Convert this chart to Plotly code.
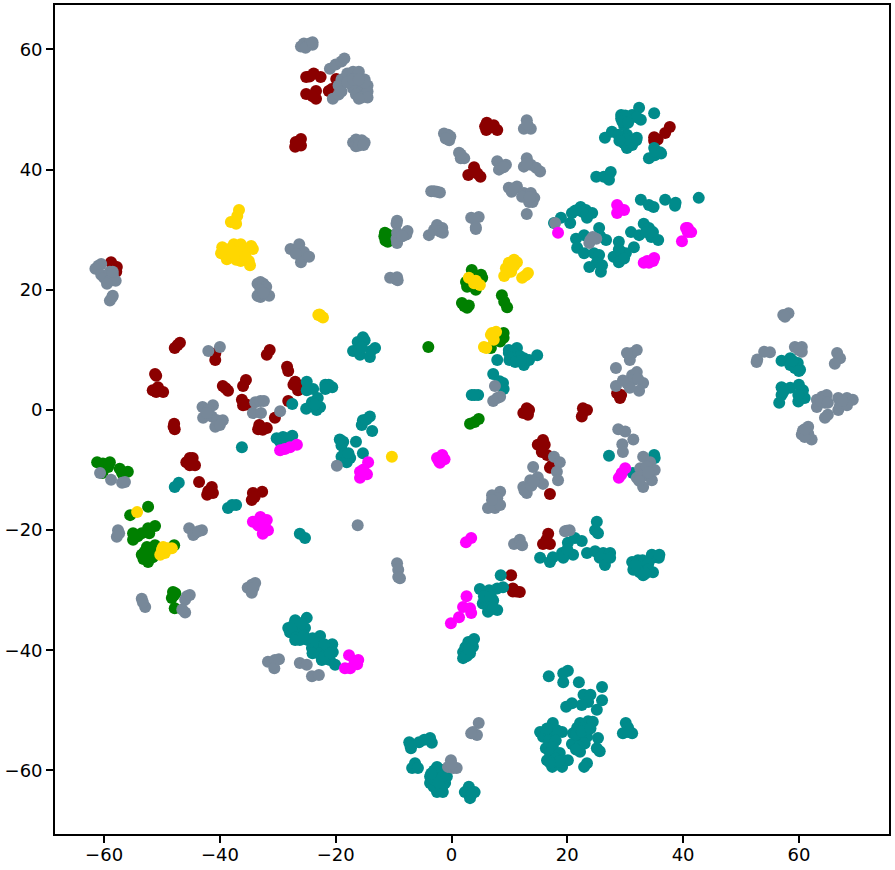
import plotly.graph_objects as go

maroon_points = [
(-25.1,55.4),(-23.8,56),(-22.6,55.4),(-24.5,55.5),(-19.9,55.1),(-25.1,52.6),(-23.4,53.1),(-23.4,51.8),(-24,52.2),(-21.2,53.1),(-20.7,53.4),
(-26,45.1),(-26.9,44.6),(-27,43.8),(-26,44),(-26.5,44.5),
(-58.8,24.6),(-57.8,23.8),(-57.9,23),(-58.4,24),
(6.1,47.8),(7.3,47.4),(6,46.6),(7.9,46.6),(6.8,47),(5.8,47.2),
(3.9,40.4),(2.9,39.1),(5,38.8),(4.2,39.6),(4.5,39.3),
(35,45.4),(35.6,45),(35,44.8),(37.7,47.1),(36.9,46.1),
(-46.9,11.2),(-47.8,10.3),(-47.3,10.8),
(-51.2,6),(-51,5.7),(-51.6,3.3),(-50.7,3.8),(-49.8,3),(-51,3),
(-40.8,8.3),(-40.8,9.4),
(-31.4,10),(-31.9,9.2),
(-28.4,7.2),(-28.2,6.5),
(-39.5,4),(-38.6,3.2),(-39,3.6),
(-35.5,5),(-36,4),
(-36.2,1.7),(-36,0.8),(-35.4,0.9),
(-26.7,4.2),(-27,4.7),(-26.5,3.3),(-27.3,4.2),
(-28.2,1.5),
(-30.5,-1.3),
(-33.2,-2.5),(-33.4,-3.2),(-31.9,-3),(-32.6,-3.3),
(-47.9,-2.3),(-47.8,-3.2),(-48,-2.8),
(-45.2,-8),(-45.8,-8.7),(-44.3,-9.2),(-45.2,-9.2),(-44.7,-8),
(-43.6,-12),
(-41.4,-12.8),(-42.2,-14.1),(-41.2,-13.8),(-42,-13.5),
(-32.7,-13.6),(-34.3,-13.8),(-34.5,-15),(-34,-14.5),
(13,0.3),(12.4,-0.5),(13.2,-0.8),(13.4,0),
(22.7,0.3),(22.5,-1.1),(23.4,0),
(28.6,2.8),(29.1,2),(29.3,2.5),
(14.9,-5.8),(16.1,-5.8),(15.6,-7),(16.5,-7.5),(17,-9.6),(17.3,-9.3),(15.8,-5),
(17,-14),
(16.7,-20.6),(15.8,-22.3),(17,-22.3),(16.4,-21.6),
(10.3,-27.5),(10.6,-29.7),(11.8,-30.3),(10.6,-30.2),(11.2,-30.2),
]

green_points = [
(-11.5,29.5),(-11,29.2),(-11.4,28.2),(-11,28),(-11.6,28.9),(-10.9,28.7),
(3.5,23.3),(5.1,22.5),(2.5,21.3),(2.7,20.5),(4.2,20),(5.3,22),(4.2,22.3),
(1.8,17.8),(2.7,17),(2.2,17.3),(3,17.4),
(8.7,19.1),(9.1,18),(9.6,17.1),
(-4,10.5),
(9,12.8),(9,12),(8.4,11.4),(6.8,10.3),
(3.2,-2.3),(4,-2),(4.7,-1.5),
(-61.2,-8.7),(-60.2,-8.9),(-59,-8.7),(-59.3,-9.5),(-60.3,-10.5),(-57.3,-9.8),(-56.9,-10.5),(-55.9,-10.3),
(-52.4,-16.1),(-55.5,-17.5),
(-51.2,-19.3),(-52.4,-19.7),(-55,-20.5),(-53.5,-20.5),(-55,-21.6),(-52.2,-20.5),(-54.2,-21),
(-51.2,-22.5),(-52.6,-22.8),(-53.5,-24.1),(-52.4,-25.3),(-51.6,-24.5),(-53,-23.6),(-52,-23.5),(-50.7,-23),(-53.2,-24.8),(-51.4,-23.7),
(-47.9,-22.5),
(-48.1,-30.3),(-47.9,-30.8),(-48.3,-31.3),(-47.7,-30.5),(-47.8,-33),
]

gray_points = [
(-26,60.5),(-25.5,61),(-25,60.6),(-24.5,61),(-24,60.8),(-25.2,60.3),(-24,61.2),
(-21,56.8),(-20,57.5),(-19,58),(-18.5,58.5),
(-19,55),(-18,56),(-17,56.3),(-16,56.3),(-19.5,54),(-15,55),(-14.5,54),(-16,54),(-17,53.5),(-15.5,53),(-14.5,53),(-16.5,52.5),(-15.5,52),(-14.5,52),(-16,51.8),(-20.5,51.8),(-19.5,52.5),(-19,53),(-15,54.5),
(-17.5,55),(-18,54.5),(-17,55),(-16,55),
(-17,44.5),(-16.5,45),(-16,44.8),(-15.5,44.9),(-15,44.5),(-16.5,43.9),(-16,44),(-15.2,44.1),
(-61,24),(-60.5,24.3),(-61.5,23.5),(-60.5,22.5),(-60,22),(-59,23),(-58.5,22.5),(-59,21.5),(-58,21.5),(-59.5,21),(-58.5,23),(-58.5,19),(-59,18.2),(-58.6,18.8),
(-27.8,26.8),(-26.3,27.6),(-25.5,26.3),(-26,24.6),(-24.6,25.5),(-26.9,26),
(-33.5,21),(-33,21.3),(-32.5,21),(-32,20.5),(-33,20),(-33.5,19),(-33,18.8),(-32.3,19.2),(-31.5,19),(-32.5,19.5),
(-9.4,31.5),(-9.5,31),(-9.4,29.5),(-9.5,28.5),(-9.4,27.8),(-8.5,29),(-7.8,29.2),(-7.6,29.8),(-8.5,28.9),
(-3.9,29.1),(-3,30),(-2.5,30.8),(-1.6,30.3),(-2,29.7),(-1.5,29.5),
(-10.6,22),(-9.4,22.1),(-9.3,21.6),(-9.6,21.8),
(-3.5,36.4),(-2.5,36.3),(-3,36.4),(-2,36.2),
(-0.6,45.8),(-1.3,46),(-0.4,44.9),(-0.2,45.5),(-1,45.2),
(1.3,42.8),(1.6,41.9),(2.2,41.9),(1.6,42.5),
(3.4,32),(4.7,32.1),(4.2,30.1),(4,31.8),(4.2,30.4),
(7.9,41.4),(8.6,40.3),(9.4,40.8),(8.2,40),(9,40.4),
(13,48.2),(12.5,46.8),(13.7,46.8),(13.1,47.5),
(13,41.9),(12.5,40.5),(13.7,40.8),(14.6,40.3),(15.3,39.7),(13,41),
(9.9,37),(11.3,37.2),(10.4,36.3),(10.8,36.8),
(12.5,36.1),(13.7,36.1),(14.3,35.3),(13.4,34.6),(14,34.6),(12.2,35.5),(13.5,35.4),
(13,32.6),(17.9,31.1),
(23.8,27.8),(24.4,28.8),(25,28.5),(24,28.3),
(-42,9.8),(-40,10.5),
(-43,0.5),(-41.2,0.8),(-42,0),(-42.9,-1.3),(-41.4,-1.1),(-40.5,-1.7),(-39.5,-1.7),(-40.8,-2.8),(-40,-2.5),(-42.3,-0.5),
(-33.9,1.3),(-33,1.5),(-32.4,1.5),(-34.3,-0.5),(-32.9,-0.5),
(-29.6,-0.2),(-19.8,-9.3),(-16.2,-19.2),
(-60.7,-10.5),(-58.8,-11.6),(-56.9,-12.1),(-56.4,-12),
(-57.6,-20),(-57.8,-21.1),(-57.4,-20.5),
(-45.3,-19.7),(-44.3,-20.5),(-43.1,-20),(-44.6,-20.8),(-43.7,-20.2),
(-34.5,-29.1),(-33.9,-28.8),(-35.2,-29.6),(-34.5,-30.4),(-34.2,-29.6),
(-53.5,-31.4),(-52.9,-32.8),(-53.3,-32),
(-45.7,-31),(-46,-31.6),(-45.2,-30.8),(-46,-33.7),(-46.5,-33.2),
(-31.7,-41.9),(-30.5,-41.6),(-30.6,-43),(-29.8,-41.5),
(-26.2,-42.1),(-25,-42.4),(-24.1,-44.3),(-22.9,-44.1),
(-9.4,-25.5),(-9.2,-26.6),(-9.2,-27.8),(-8.9,-28),
(-0.1,-58.3),(0.3,-59.6),(-0.6,-59.4),(0.9,-59.6),(0,-58.9),
(4.7,-52.1),(3.7,-53.6),(4.4,-54.1),(3.4,-53.8),
(8.4,-13.6),(7,-14.2),(7.9,-14.7),(6.3,-16.3),(7.5,-16.3),(8.4,-15.8),(7,-15),
(14.1,-9.5),
(12.4,-12.8),(13.6,-11.7),(13,-13.8),(14.9,-11.2),(15.8,-12.3),(12.6,-13.4),(13.8,-12.6),(14.2,-12),
(17.7,-7.8),(18.7,-8.7),(18.2,-10.3),(18.4,-11.7),
(10.8,-22.3),(11.8,-21.6),(12.2,-22.5),
(19.9,-20.1),(19.6,-20.2),(20.4,-20),
(28.8,-3.2),(30,-3.6),(31.4,-4.9),(29.5,-5.7),(29.6,-7),
(33.1,-7.8),(34.3,-8.7),(35.1,-10),(32.6,-9.7),(33.7,-9.4),(32,-11.3),(33.1,-11),(34.6,-11.7),(33.1,-12.8),(32.4,-11.8),(34,-10.4),
(31.2,9.5),(32,10),(30.8,8.3),(30.3,9.5),(28.4,7),(28.4,4),(30.3,4.5),(31.2,5.8),(32,6.3),(31.4,5),(33.1,4.5),(32.4,3.2),(30.8,3.7),(29.6,4.9),(32.2,5.2),
(7.9,2),(8.4,2.2),(7.2,1.5),(7.5,4),
(57.3,15.8),(58.2,16.1),(57.6,15.5),
(59.3,10.5),(60.5,10.5),(60.5,9.7),(60,10),
(54,9.7),(55,9.6),(52.7,8),(52.8,8.4),
(66.6,9.5),(67.1,8.6),(66.2,7.7),
(63.1,1.7),(64,2.2),(64.8,2.5),(63.1,0.5),(64.5,1.2),(63.8,1.5),(65,1.2),(65,-0.8),(64.5,-1.3),
(66.8,2),(68.3,2),(69.3,1.7),(67.1,0.8),(66.8,0),(68.3,0.8),(67.5,1.5),
(61.6,-2.8),(60.7,-3.4),(60.5,-4.1),(61.6,-3.9),(62.2,-4.9),(61,-4.5),(61,-3.2),
]

teal_points = [
(29.3,49.1),(30,48.5),(31.2,49.1),(32.4,50.3),(32.7,48.3),(29.8,47.4),(35,49.4),(29.3,48.5),(30.8,48.7),(32,48.7),(30,49),(29.5,48),(30.5,47.8),
(26.5,45.3),(27.7,46.3),(29.3,45.3),(30.3,45.8),(31.9,44.9),(30.3,43.6),(31.2,44.1),(29.8,44.4),(28.8,45.8),(30.8,44.6),(31,44.5),(30,45),(29,44.8),(32,45.3),
(34.1,41.9),(35,43.6),(36,42.9),(35.1,42.4),(35.2,43),(36.2,42.7),
(25,38.8),(26.3,38.8),(27.5,39.6),(27.2,38.3),
(32.7,35),(34.1,34.1),(34.9,33.8),(36.9,35),(38.6,34),(38.7,34.5),(42.7,35.3),
(17.7,31.1),(18.9,32),(20.5,31.1),(20.8,32.8),(22.3,33.8),(23.2,33.3),(24.3,32.8),(23.4,32),(22.6,33),(21.4,33.2),
(21.5,28.5),(22.9,29.1),(21.7,27),(22.9,26.1),(25.5,30.3),(26.7,28.3),(25.7,28.9),(24.6,26.1),(25.5,25.8),(25.1,24.5),(23.8,23.8),(25.8,23),(26,24.1),
(28.9,28),(31.5,27.1),(28,25.5),(28.9,24.6),(30.1,26.1),(29.2,26.4),(28.9,26.7),(29.8,25.2),
(31,29.6),(32.4,29.1),(33.2,31),(34.1,30.3),(34.5,28.8),(35.7,28.3),(33.6,29.6),(34.8,29.6),
(7.9,8.3),(9.9,9.5),(11.3,10.3),(9.9,10),(11.3,8.6),(12.5,8.6),(12.5,7.5),(13.4,8.3),(14.8,9.1),(10.7,9.5),(11.8,9),(10.3,8.7),(10,8.3),(11,8),(12,8.2),
(7.2,6),(8.9,4.5),(9,3.5),(8.3,4.8),
(3.5,2.5),(4.6,2.5),(4,2.5),
(-15.3,12.1),(-16.2,11.3),(-17,9.8),(-15.8,9.2),(-13.2,10.3),(-14.1,8.8),(-13.9,9.8),(-15,11.6),(-16,10),(-15.5,10.5),
(-25,4.7),(-25,3.3),(-23.9,3.5),(-21.8,4.2),(-20.6,3.8),(-21.2,4.2),(-21.8,3.5),
(-27.5,1),(-25.1,0.2),(-23.1,2),(-24.1,1.3),(-22.7,0.5),(-23.3,0),(-23.6,0.9),
(-30.2,-4.7),(-29.1,-4.5),(-27.5,-4.3),(-29.6,-5.3),(-28.5,-4.7),
(-36.2,-6.2),
(-18.7,-5.3),(-19,-5.9),(-19.3,-4.9),(-16.5,-5.3),(-18.4,-7.8),(-17.5,-8),(-19,-7.8),(-18.1,-8.7),(-15.3,-7.2),(-18.5,-7.2),(-18,-8),(-17.8,-7.2),
(-14.1,-1.1),(-15.3,-1.7),(-15.5,-2.5),(-13.7,-3.5),(-14.7,-1.6),
(-47.1,-12.1),(-47.8,-12.8),
(-38.6,-16.3),(-37.2,-15.8),(-37.9,-15.8),
(-26.2,-20.6),(-25.3,-21.3),
(-28.2,-36.3),(-27,-35),(-25,-34.6),(-27.9,-37),(-26.7,-37),(-25.3,-36.3),(-26.2,-38.3),(-24.8,-38.3),(-24.1,-39.6),(-22.7,-40),(-22.7,-37.6),(-21.8,-40),(-20.6,-39),(-22.4,-41.6),(-21,-41.6),(-20.5,-40.3),(-20.1,-42.4),(-21.8,-41.3),(-23.5,-39),(-27,-38.3),
(-24,-38),(-23,-38.8),(-22,-39),(-23,-40.5),(-22,-41),(-21,-40.5),(-25.5,-37.5),(-26.5,-36),(-27.5,-36),(-26,-35.5),(-24,-40.5),
(15.3,-24.6),(17,-25.3),(17.5,-24.5),(19.1,-23.8),(20.1,-22.1),(21.3,-21.3),(22.5,-21.8),(21,-24.1),(19.3,-24.6),(20,-23.2),
(24.8,-20),(25.1,-18.6),(25.3,-20.5),
(23.4,-23.8),(24.8,-23.5),(26.2,-23.8),(27.4,-23.8),(25.6,-24.6),(26.5,-25.8),(27.4,-24.6),
(31.2,-25.3),(31.4,-26.6),(33.1,-27.5),(34.8,-27),(32.6,-26),(33.6,-26),(34.6,-24.1),(35.1,-24.5),(32.2,-25),(33.1,-26.6),(35.8,-24.6),(35.9,-24.1),
(33,-25),(34,-25.5),(32.5,-27),(34,-26.5),(31.8,-25.8),(33.5,-27.2),
(8.5,-27.5),(7.9,-29.7),(8.9,-29.5),(4.9,-29.8),(6.1,-30.8),(7.2,-31.7),(5.4,-32.2),(6.3,-33.6),(7.9,-33.3),(6.4,-32.2),(6,-31.5),(7,-32.2),(6.5,-30),(5.6,-31),(6.8,-31),(7.2,-33),
(3.9,-38.1),(2.9,-38.6),(3.7,-39.4),(2.9,-39.7),(2,-40.3),(2,-41.3),(3.2,-40.5),(2.7,-40.9),(3.2,-39),(3.5,-38.7),(2.4,-39.5),(2.5,-41),(3,-39.9),
(16.8,-44.3),(20.1,-43.4),(19.3,-43.8),(19.3,-45.3),(22,-45.3),(26,-46.1),(22.8,-47.4),(24,-47.4),(26,-48.3),(23.6,-48.6),(22.5,-49.1),(20.8,-48.8),(19.8,-49.4),(25.1,-49.9),
(17.5,-52.1),(15.3,-53.6),(19.1,-53.6),(17.4,-54.4),(15.8,-54.4),(18.2,-53.3),(16.4,-53.3),(16.8,-55),(18,-55),(16.5,-53),
(22.2,-52.1),(23.6,-51.8),(24.4,-51.9),(21.7,-52.9),(22.8,-52.9),(23.6,-53.1),(21,-53.8),(22.2,-54.2),(23.4,-54.4),(21.7,-55.3),(20.8,-55.6),(22.8,-55.4),(22.2,-56.9),(25.3,-54.6),(25.1,-56.3),(25.6,-56.8),
(21.5,-54),(22.5,-53.5),(23,-55.5),(22,-56),(21.5,-56.5),(24,-53),
(16.3,-56.3),(17.5,-56.1),(17,-57.1),(18.7,-57.1),(20.1,-58.3),(16.5,-58.3),(17.4,-59.4),(19.1,-59.4),(18,-58),(23.4,-58.8),(22.9,-59.4),(17.5,-58.5),(18.5,-58.5),(17,-58.7),
(30.1,-52.1),(30.5,-52.9),(29.6,-53.8),(31.2,-53.8),(30.5,-53.6),
(-7.3,-55.3),(-5.6,-55.3),(-7,-56.3),(-3.7,-54.6),(-3.4,-55.4),(-6.3,-58.8),(-6.8,-59.6),(-5.8,-59.6),(-4.7,-54.9),(-7.1,-55.9),
(-2.5,-59.4),(-3.7,-61),(-2.8,-60.4),(-2,-61),(-1.1,-62.1),(-3.7,-62.1),(-2.5,-63.6),(-1.5,-63.6),(-2.8,-62.1),(-1.6,-59.9),(-0.8,-61),(-3.1,-62.7),
(-2,-60),(-3,-60),(-1.5,-62.5),(-2,-62.5),(-3,-61.5),(-1.5,-61),(-2.3,-62),(-3.5,-60.5),
(3,-62.7),(4,-63.6),(2.3,-63.6),(3.2,-64.6),(3.5,-63.9),
(27.2,-7.6),(31.3,-10.5),(35,-7.5),(35.1,-8),
]

teal_right_points = [
(57,8.2),(58.5,8.6),(58.5,7.5),(59.8,7.8),(60.2,6.7),(59.3,7),(58.9,8.2),(60,6.5),
(57,3.8),(58.5,3.7),(60,4.2),(60.7,3.3),(57,2.5),(56.6,1.2),(59.9,1.4),(61,2),(59.9,2.5),(57.3,3),
]

magenta_points = [
(28.6,34.1),(29.8,33.3),(28.6,32.8),(28.9,33.6),(18.4,29.5),
(33.2,24.5),(34.1,24.5),(34.8,24.8),(33.8,24.8),(35,25.3),
(39.8,28.1),(40.8,29.6),(40.8,30.3),(41.4,29.6),(40.5,30.3),
(-29.6,-6.7),(-28.8,-6.5),(-27.9,-6.2),(-26.7,-5.8),
(-14.4,-8.7),(-15.8,-10.3),(-14.6,-10.7),(-15.8,-11.3),(-15.5,-10.8),(-15.2,-9.9),
(-34.3,-18.6),(-33,-17.8),(-31.9,-18.3),(-33.4,-19.2),(-31.7,-20),(-32.6,-20.6),(-32.8,-19.4),
(-1.6,-7.5),(-2,-8.8),(-2.5,-8),(-1.2,-8.2),(-2.2,-8.5),
(3.4,-21.3),(2.5,-22),
(29.4,-10.5),(30,-9.7),(28.9,-11.3),(29.3,-10.8),
(2.6,-31),(2,-32.8),(3.2,-33),(3.4,-33.8),(1.3,-34.5),(-0.1,-35.5),
(-17.7,-40.8),(-18.4,-43),(-16.7,-41.8),(-16.3,-42.3),(-17.5,-43),(-16.1,-41.6),
]

gold_points = [
(-36.7,33.3),(-37,32.3),(-38.1,31.3),(-37.2,31),
(-39.6,27.1),(-39.8,26.1),(-38.8,25.1),(-37.6,27.6),(-36.4,27.6),(-34.6,27.3),(-34.3,26.8),(-37.6,26.3),(-36.8,26.3),(-38.4,26.8),(-35.8,26.3),(-36.4,24.8),(-35,24.8),(-34.8,24.1),(-37.2,25),(-35.6,25.6),
(-22.5,15.6),(-23,15.8),(-22.2,15.4),(-22.8,15.9),
(10.8,25),(9.9,24.5),(11.3,24.6),(9.4,23.6),(9.1,22.3),(10.3,23),(10.8,24),(12.2,22),(13.2,22.8),(12.8,22.4),
(3,22),(3.9,21.1),(4.9,20.8),(4.2,21.5),
(7,12.8),(7.3,11.7),(6.8,12.5),(7.7,13),
(5.6,10.5),(6,10.3),
(-10.3,-7.8),
(-54.3,-17),
(-49.8,-22.8),(-50.3,-24.1),(-48.3,-23),(-49.5,-23.8),(-50,-23.2),(-49,-23),
]

series = [
    (maroon_points, "#8B0000"),
    (green_points, "#008000"),
    (teal_points, "#008B8B"),
    (gray_points, "#778899"),
    (teal_right_points, "#008B8B"),
    (magenta_points, "#FF00FF"),
    (gold_points, "#FFD700"),
]

fig = go.Figure()
for pts, color in series:
    fig.add_trace(go.Scatter(
        x=[p[0] for p in pts], y=[p[1] for p in pts], mode="markers",
        marker=dict(color=color, size=12, line=dict(width=0)),
        showlegend=False, hoverinfo="skip",
    ))

axis = dict(showgrid=False, zeroline=False, showline=True, mirror=True, linecolor="black",
            linewidth=1.7, ticks="outside", ticklen=7, tickwidth=1.5, tickcolor="black",
            automargin=False,
            tickfont=dict(family="DejaVu Sans", size=18, color="black"), tickmode="array",
            tickvals=[-60, -40, -20, 0, 20, 40, 60],
            ticktext=["\u221260", "\u221240", "\u221220", "0", "20", "40", "60"])
xa = dict(axis, range=[-68.48, 75.56], ticklabelstandoff=-3)
ya = dict(axis, range=[-70.57, 67.4])
fig.update_layout(
    width=895, height=870, autosize=False, paper_bgcolor="white", plot_bgcolor="white",
    margin=dict(l=55, r=6, t=5, b=36, pad=0), xaxis=xa, yaxis=ya,
)
fig.write_html("out.html", config={"displayModeBar": False},
               post_script="document.body.style.margin='0';")
